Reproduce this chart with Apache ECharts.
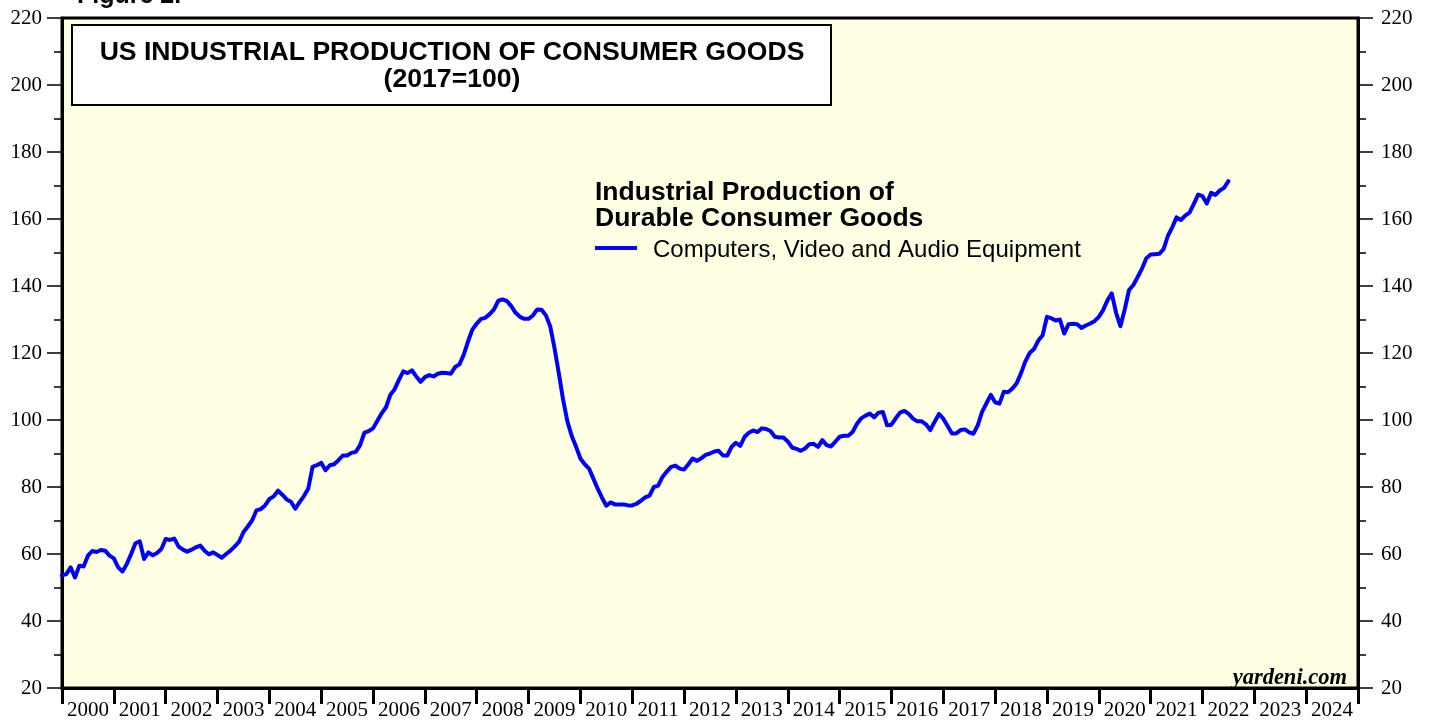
<!DOCTYPE html>
<html>
<head>
<meta charset="utf-8">
<script src="https://cdn.jsdelivr.net/npm/echarts@6/dist/echarts.min.js"></script>
<style>
html,body{margin:0;padding:0;background:#fff;}
#chart{width:1429px;height:721px;}
</style>
</head>
<body>
<div id="chart"></div>
<script>
// Year labels on the x axis
const yearLabels = ['2000','2001','2002','2003','2004','2005','2006','2007','2008','2009','2010','2011','2012','2013','2014','2015','2016','2017','2018','2019','2020','2021','2022','2023','2024'];
// Y axis tick labels range
const yMin = 20, yMax = 220, yStep = 20;
const startYear = 2000;
// Monthly index values, Jan 2000 onward (2017=100)
const v2000 = [53.6,54,56,53,56.5,56.3,59.5,60.9,60.6,61.2,61,59.5];
const v2001 = [58.7,56,54.8,57,60,63.2,63.8,58.5,60.5,59.6,60.3,61.5];
const v2002 = [64.5,64.2,64.6,62.2,61.3,60.7,61.3,62,62.5,61,59.9,60.5];
const v2003 = [59.7,58.9,60,61,62.3,63.7,66.5,68.2,70,73,73.4,74.5];
const v2004 = [76.4,77.2,78.9,77.7,76.3,75.6,73.5,75.5,77.3,79.5,86,86.5];
const v2005 = [87.2,85,86.5,86.8,88,89.4,89.4,90.2,90.5,92.5,96.2,96.7];
const v2006 = [97.5,99.8,102,103.8,107.5,109.2,112,114.5,114,114.8,113,111.4];
const v2007 = [112.8,113.4,113,113.8,114.1,114,113.8,115.8,116.6,119.5,123.5,127];
const v2008 = [128.8,130.2,130.5,131.6,133,135.6,136,135.5,134,132,130.8,130.2];
const v2009 = [130.2,131.2,133,132.9,131.3,128,121.5,114,106,99.5,95.2,92];
const v2010 = [88.5,86.8,85.5,82.5,79.5,76.8,74.4,75.4,74.8,74.8,74.8,74.5];
const v2011 = [74.5,75,75.9,76.9,77.4,80,80.4,83,84.6,86,86.4,85.5];
const v2012 = [85.2,86.8,88.5,87.8,88.6,89.6,90,90.6,90.8,89.4,89.4,92];
const v2013 = [93.2,92.3,95,96.2,96.9,96.4,97.5,97.3,96.7,95,94.8,94.8];
const v2014 = [93.6,91.8,91.4,90.8,91.5,92.8,92.9,92,94,92.5,92.1,93.5];
const v2015 = [95,95.3,95.3,96.4,98.8,100.5,101.3,101.9,100.8,102.2,102.4,98.4];
const v2016 = [98.6,100.5,102.2,102.7,101.8,100.4,99.6,99.6,98.7,97,99.5,101.8];
const v2017 = [100.4,98.2,96,96,97,97.2,96.3,95.9,98.5,102.5,105,107.5];
const v2018 = [105.3,104.9,108.4,108.3,109.4,111,114,117.5,120,121.2,123.7,125.3];
const v2019 = [130.8,130.4,129.7,130,125.8,128.6,128.7,128.6,127.5,128.2,128.8,129.5];
const v2020 = [130.8,132.8,135.7,137.8,132,128,133,138.8,140.3,142.7,145.2,148.3];
const v2021 = [149.4,149.5,149.6,151,155,157.5,160.5,159.7,161,161.9,164.5,167.3];
const v2022 = [166.8,164.6,167.8,167.2,168.5,169.3,171.3];

const values = [].concat(v2000,v2001,v2002,v2003,v2004,v2005,v2006,v2007,v2008,v2009,v2010,v2011,v2012,v2013,v2014,v2015,v2016,v2017,v2018,v2019,v2020,v2021,v2022);
const seriesData = values.map((v, i) => [i, v]);

const chart = echarts.init(document.getElementById('chart'));
const serif = 'Liberation Serif';
const sans = 'Liberation Sans';

const yAxisCommon = {
  type: 'value', min: yMin, max: yMax, interval: yStep,
  axisLine: { show: true, lineStyle: { color: '#000', width: 3 } },
  axisTick: { show: true, length: 15, lineStyle: { color: '#000', width: 1.5 } },
  minorTick: { show: true, splitNumber: 2, length: 8, lineStyle: { color: '#000', width: 1.5 } },
  splitLine: { show: false },
  axisLabel: { color: '#000', fontFamily: serif, fontSize: 21 }
};

chart.setOption({
  animation: false,
  backgroundColor: '#fff',
  grid: { left: 62, right: 71, top: 18, bottom: 29, show: true, backgroundColor: '#FFFFE3', borderColor: '#000', borderWidth: 3 },
  xAxis: [
    { type: 'value', min: 0, max: yearLabels.length * 12, show: false },
    { type: 'category', data: yearLabels, position: 'bottom', boundaryGap: true,
      axisLine: { show: true, lineStyle: { color: '#000', width: 3 } },
      axisTick: { show: true, length: 16, alignWithLabel: false, lineStyle: { color: '#000', width: 3 } },
      axisLabel: { interval: 0, color: '#000', fontFamily: serif, fontSize: 21, margin: 12 } }
  ],
  yAxis: [
    Object.assign({}, yAxisCommon, { position: 'left', axisLabel: Object.assign({}, yAxisCommon.axisLabel, { margin: 20 }) }),
    Object.assign({}, yAxisCommon, { position: 'right', axisLabel: Object.assign({}, yAxisCommon.axisLabel, { margin: 23 }) })
  ],
  series: [{
    name: 'Computers, Video and Audio Equipment',
    type: 'line', xAxisIndex: 0, yAxisIndex: 0,
    data: seriesData, showSymbol: false, symbol: 'none',
    lineStyle: { color: '#0000FF', width: 4, join: 'round', cap: 'round' }
  }],
  graphic: [
    { type: 'text', x: 77, y: 9, style: { text: 'Figure 2.', font: 'bold 25px ' + sans, fill: '#000', align: 'left', verticalAlign: 'bottom' } },
    { type: 'rect', shape: { x: 72, y: 25, width: 759, height: 80 }, style: { fill: '#fff', stroke: '#000', lineWidth: 2 }, z: 10 },
    { type: 'text', x: 452, y: 53, style: { text: 'US INDUSTRIAL PRODUCTION OF CONSUMER GOODS', font: 'bold 26.6px ' + sans, fill: '#000', align: 'center', verticalAlign: 'middle' }, z: 11 },
    { type: 'text', x: 452, y: 80, style: { text: '(2017=100)', font: 'bold 26.6px ' + sans, fill: '#000', align: 'center', verticalAlign: 'middle' }, z: 11 },
    { type: 'text', x: 595, y: 193, style: { text: 'Industrial Production of', font: 'bold 26.5px ' + sans, fill: '#000', align: 'left', verticalAlign: 'middle' }, z: 11 },
    { type: 'text', x: 595, y: 219, style: { text: 'Durable Consumer Goods', font: 'bold 26.5px ' + sans, fill: '#000', align: 'left', verticalAlign: 'middle' }, z: 11 },
    { type: 'line', shape: { x1: 595, y1: 248, x2: 637, y2: 248 }, style: { stroke: '#0000FF', lineWidth: 4 }, z: 11 },
    { type: 'text', x: 653, y: 250, style: { text: 'Computers, Video and Audio Equipment', font: '24px ' + sans, fill: '#000', align: 'left', verticalAlign: 'middle' }, z: 11 },
    { type: 'text', x: 1347, y: 678, style: { text: 'yardeni.com', font: 'italic bold 22.5px ' + serif, fill: '#000', align: 'right', verticalAlign: 'middle' }, z: 11 }
  ]
});
</script>
</body>
</html>
